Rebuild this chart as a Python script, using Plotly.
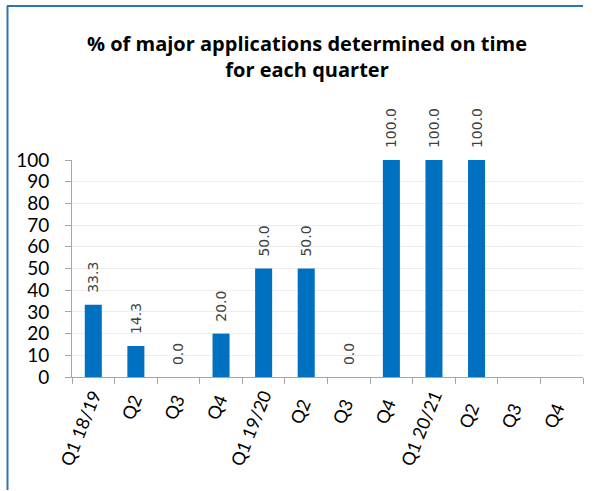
import plotly.graph_objects as go

categories = ["Q1 18/19", "Q2 ", "Q3 ", "Q4 ", "Q1 19/20", "Q2  ", "Q3  ", "Q4  ",
              "Q1 20/21", "Q2   ", "Q3   ", "Q4   "]
values = [33.3, 14.3, 0.0, 20.0, 50.0, 50.0, 0.0, 100.0, 100.0, 100.0, None, None]
y_ticks = [0, 10, 20, 30, 40, 50, 60, 70, 80, 90, 100]

fig = go.Figure()
fig.add_trace(go.Bar(
    x=categories, y=values,
    marker=dict(color="#0070C0", line=dict(width=0)),
    text=[None if v is None else "\u00a0\u00a0" + f"{v:.1f}" for v in values],
    textposition="outside", textangle=-90, constraintext="none",
    textfont=dict(family="DejaVu Sans", size=14, color="#404040"),
    cliponaxis=False,
    hoverinfo="skip",
))

L, R, T, B = 72, 14, 160, 114
W, H = 597, 491
pw, ph = W - L - R, H - T - B

def px(x):
    return (x - L) / pw

def py(y):
    return (H - B - y) / ph

border_x = [7, 72, 200, 300, 400, 500, 583]
shapes = [
    dict(type="line", xref="paper", yref="paper", x0=px(a), x1=px(b),
         y0=py(6), y1=py(6), line=dict(color="#2E75B6", width=2))
    for a, b in zip(border_x[:-1], border_x[1:])
]
shapes.append(dict(type="line", xref="paper", yref="paper", x0=px(7.5), x1=px(7.5),
                   y0=py(490), y1=py(6), line=dict(color="#2E75B6", width=2)))

fig.update_layout(
    width=W, height=H,
    margin=dict(l=L, r=R, t=T, b=B, autoexpand=False),
    paper_bgcolor="white", plot_bgcolor="white",
    bargap=0.6, showlegend=False,
    font=dict(family="Lato", color="#000000"),
    annotations=[dict(
        text="<b>% of major applications determined on time<br>for each quarter</b>",
        xref="paper", yref="paper", x=px(307), y=py(57),
        xanchor="center", yanchor="middle", showarrow=False,
        font=dict(family="Open Sans", size=20, color="#000000"),
    )],
    shapes=shapes,
)
fig.update_xaxes(
    type="category", showline=True, linecolor="#A6A6A6", linewidth=1,
    ticks="outside", tickson="boundaries", ticklen=6, tickcolor="#A6A6A6",
    tickangle=-68, tickfont=dict(family="Lato", size=18, color="#000000"),
    showgrid=False, automargin=False,
)
fig.update_yaxes(
    range=[0, 100], tickvals=y_ticks, showline=True, linecolor="#A6A6A6",
    ticks="outside", ticklen=6, tickcolor="#A6A6A6", ticklabelstandoff=12,
    tickfont=dict(family="Lato", size=19, color="#000000"),
    showgrid=True, gridcolor="#EDEDED", gridwidth=1, zeroline=False,
    automargin=False,
)
fig.write_html("out.html", config={"displayModeBar": False},
               post_script="document.body.style.margin='0';document.body.style.overflow='hidden';")
